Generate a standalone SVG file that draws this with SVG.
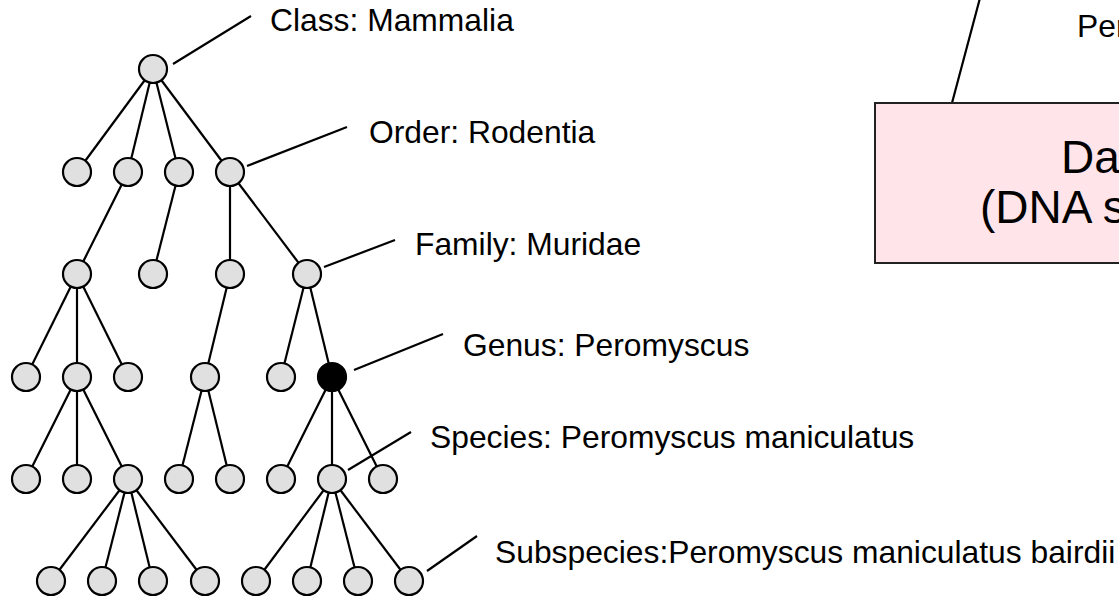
<svg xmlns="http://www.w3.org/2000/svg" width="1119" height="599" viewBox="0 0 1119 599">
<style>
.n{fill:#e0e0e0;stroke:#000;stroke-width:2.2}
.b{fill:#000;stroke:#000;stroke-width:2.2}
.e line{stroke:#000;stroke-width:2.2}
.t{font-family:"Liberation Sans",Arial,sans-serif;font-size:31.8px;fill:#000}
.bt{font-family:"Liberation Sans",Arial,sans-serif;font-size:46px;fill:#000}
</style>
<rect width="1119" height="599" fill="#fff"/>
<g id="connectors" class="e">
<line x1="153" y1="69" x2="77" y2="172"/>
<line x1="153" y1="69" x2="128" y2="172"/>
<line x1="153" y1="69" x2="179" y2="172"/>
<line x1="153" y1="69" x2="230" y2="172"/>
<line x1="128" y1="172" x2="77" y2="274"/>
<line x1="179" y1="172" x2="153" y2="274"/>
<line x1="230" y1="172" x2="230" y2="274"/>
<line x1="230" y1="172" x2="307" y2="274"/>
<line x1="77" y1="274" x2="26" y2="377"/>
<line x1="77" y1="274" x2="77" y2="377"/>
<line x1="77" y1="274" x2="128" y2="377"/>
<line x1="230" y1="274" x2="205" y2="377"/>
<line x1="307" y1="274" x2="281" y2="377"/>
<line x1="307" y1="274" x2="332" y2="377"/>
<line x1="77" y1="377" x2="26" y2="479"/>
<line x1="77" y1="377" x2="77" y2="479"/>
<line x1="77" y1="377" x2="128" y2="479"/>
<line x1="205" y1="377" x2="179" y2="479"/>
<line x1="205" y1="377" x2="230" y2="479"/>
<line x1="332" y1="377" x2="281" y2="479"/>
<line x1="332" y1="377" x2="332" y2="479"/>
<line x1="332" y1="377" x2="383" y2="479"/>
<line x1="128" y1="479" x2="51" y2="581"/>
<line x1="128" y1="479" x2="102" y2="581"/>
<line x1="128" y1="479" x2="153" y2="581"/>
<line x1="128" y1="479" x2="205" y2="581"/>
<line x1="332" y1="479" x2="256" y2="581"/>
<line x1="332" y1="479" x2="307" y2="581"/>
<line x1="332" y1="479" x2="358" y2="581"/>
<line x1="332" y1="479" x2="409" y2="581"/>
<line x1="173" y1="64" x2="251" y2="16"/>
<line x1="247" y1="166" x2="347" y2="127"/>
<line x1="324" y1="267" x2="395" y2="240"/>
<line x1="354" y1="370" x2="443" y2="334"/>
<line x1="348" y1="470" x2="411" y2="432"/>
<line x1="427" y1="571" x2="477" y2="536"/>
<line x1="952" y1="103" x2="980" y2="-2"/>
</g>
<g id="root"><circle class="n" cx="153" cy="69" r="14"/></g>
<g id="l1"><circle class="n" cx="77" cy="172" r="14"/><circle class="n" cx="128" cy="172" r="14"/><circle class="n" cx="179" cy="172" r="14"/><circle class="n" cx="230" cy="172" r="14"/></g>
<g id="l2"><circle class="n" cx="77" cy="274" r="14"/><circle class="n" cx="153" cy="274" r="14"/><circle class="n" cx="230" cy="274" r="14"/><circle class="n" cx="307" cy="274" r="14"/></g>
<g id="l3"><circle class="n" cx="26" cy="377" r="14"/><circle class="n" cx="77" cy="377" r="14"/><circle class="n" cx="128" cy="377" r="14"/><circle class="n" cx="205" cy="377" r="14"/><circle class="n" cx="281" cy="377" r="14"/></g>
<g id="genus"><circle class="b" cx="332" cy="377" r="14"/></g>
<g id="l4"><circle class="n" cx="26" cy="479" r="14"/><circle class="n" cx="77" cy="479" r="14"/><circle class="n" cx="128" cy="479" r="14"/><circle class="n" cx="179" cy="479" r="14"/><circle class="n" cx="230" cy="479" r="14"/><circle class="n" cx="281" cy="479" r="14"/><circle class="n" cx="332" cy="479" r="14"/><circle class="n" cx="383" cy="479" r="14"/></g>
<g id="l5"><circle class="n" cx="51" cy="581" r="14"/><circle class="n" cx="102" cy="581" r="14"/><circle class="n" cx="153" cy="581" r="14"/><circle class="n" cx="205" cy="581" r="14"/><circle class="n" cx="256" cy="581" r="14"/><circle class="n" cx="307" cy="581" r="14"/><circle class="n" cx="358" cy="581" r="14"/><circle class="n" cx="409" cy="581" r="14"/></g>
<g id="labels">
<text class="t" x="270" y="31">Class: Mammalia</text>
<text class="t" x="369" y="143">Order: Rodentia</text>
<text class="t" x="415" y="255">Family: Muridae</text>
<text class="t" x="463" y="356">Genus: Peromyscus</text>
<text class="t" x="430" y="448">Species: Peromyscus maniculatus</text>
<text class="t" x="495" y="563">Subspecies:Peromyscus maniculatus bairdii</text>
<text class="t" x="1077" y="37">Per</text>
</g>
<g id="database">
<rect x="875" y="103" width="260" height="160" fill="#ffe4e9" stroke="#222" stroke-width="2"/>
<text class="bt" x="1061" y="173">Da</text>
<text class="bt" x="980" y="223">(DNA s</text>
</g>
</svg>
